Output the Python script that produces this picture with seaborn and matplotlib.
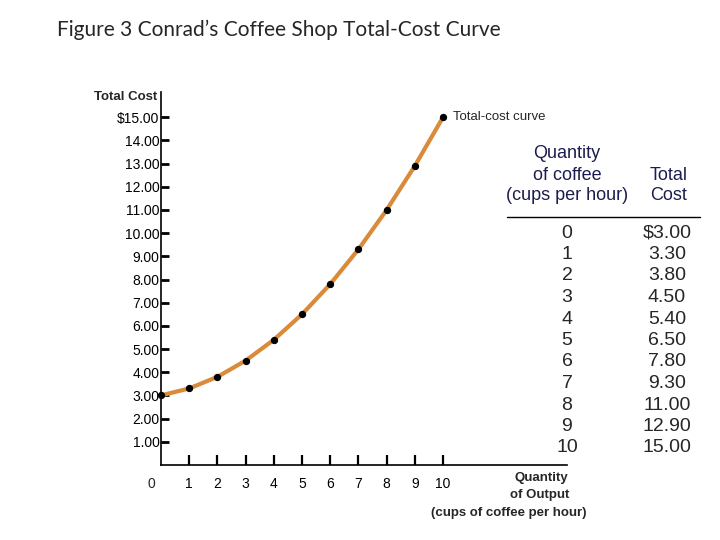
import matplotlib
matplotlib.use("Agg")
import matplotlib.pyplot as plt
import seaborn as sns
import pandas as pd

quantity = [0, 1, 2, 3, 4, 5, 6, 7, 8, 9, 10]
total_cost = [3.00, 3.30, 3.80, 4.50, 5.40, 6.50, 7.80, 9.30, 11.00, 12.90, 15.00]
y_ticks = list(range(1, 16))
y_labels = ["$15.00" if v == 15 else f"{v:.2f}" for v in y_ticks]
x_ticks = list(range(1, 11))

df = pd.DataFrame({"q": quantity, "tc": total_cost})

sns.set_style("white")
plt.rcParams["font.family"] = ["Liberation Sans", "DejaVu Sans"]

fig = plt.figure(figsize=(7.2, 5.4), dpi=100)
ax = fig.add_axes([0.2236, 0.139, 0.564, 0.691])

sns.lineplot(data=df, x="q", y="tc", ax=ax, color="#D98A3A", linewidth=3,
             marker="o", markersize=4.5, markerfacecolor="black",
             markeredgecolor="black", clip_on=False, zorder=3)

ax.set_xlim(0, 14.4)
ax.set_ylim(0, 16.1)
ax.set_xticks(x_ticks)
ax.set_xticklabels([str(v) for v in x_ticks], fontsize=10)
ax.set_yticks(y_ticks)
ax.set_yticklabels(y_labels, fontsize=10)
ax.tick_params(axis="y", left=True, direction="in", length=6, width=2, pad=1, colors="black")
ax.tick_params(axis="x", bottom=True, direction="in", length=7.5, width=1.6, pad=9, colors="black")
ax.set_xlabel("")
ax.set_ylabel("")
for side in ["top", "right"]:
    ax.spines[side].set_visible(False)
for side in ["left", "bottom"]:
    ax.spines[side].set_color("black")
    ax.spines[side].set_linewidth(1.2)

# origin label
ax.annotate("0", xy=(0, 0), xytext=(-7, -14), textcoords="offset points",
            ha="center", va="center", fontsize=10)

# axis titles
ax.annotate("Total Cost", xy=(0, 1), xycoords="axes fraction", xytext=(-3, -4),
            textcoords="offset points", ha="right", va="center",
            fontsize=9.5, fontweight="bold")
ax.annotate("Total-cost curve", xy=(quantity[-1], total_cost[-1]), xytext=(7, 0),
            textcoords="offset points", ha="left", va="center", fontsize=9.5)

fig.text(541 / 720, 1 - 478 / 540, "Quantity", ha="center", va="center",
         fontsize=9.5, fontweight="bold")
fig.text(540 / 720, 1 - 495 / 540, "of Output", ha="center", va="center",
         fontsize=9.5, fontweight="bold")
fig.text(509 / 720, 1 - 513 / 540, "(cups of coffee per hour)", ha="center",
         va="center", fontsize=9.5, fontweight="bold")

# title
fig.text(57 / 720, 1 - 30 / 540, "Figure 3 Conrad\u2019s Coffee Shop Total-Cost Curve",
         ha="left", va="center", fontsize=15, family=["Lato", "DejaVu Sans"])

# table
navy = "#1c1c50"
for i, line in enumerate(["Quantity", "of coffee", "(cups per hour)"]):
    fig.text(567 / 720, 1 - (154 + 21 * i) / 540, line, ha="center", va="center",
             fontsize=13, color=navy)
for i, line in enumerate(["Total", "Cost"]):
    fig.text(669 / 720, 1 - (175 + 21 * i) / 540, line, ha="center", va="center",
             fontsize=13, color=navy)
fig.add_artist(plt.Line2D([507 / 720, 700 / 720], [1 - 217 / 540, 1 - 217 / 540],
                          color="black", linewidth=1))
for i, (q, c) in enumerate(zip(quantity, total_cost)):
    yy = 1 - (233 + 21.5 * i) / 540
    fig.text(567 / 720, yy, str(q), ha="center", va="center", fontsize=14)
    fig.text(667 / 720, yy, f"${c:.2f}" if i == 0 else f"{c:.2f}", ha="center",
             va="center", fontsize=14)

fig.savefig("out.png", dpi=100, facecolor="white")
